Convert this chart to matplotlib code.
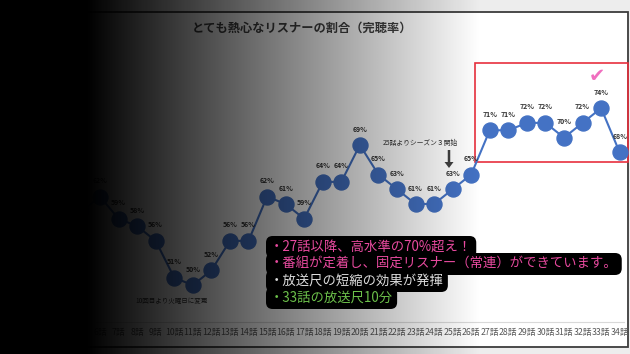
import numpy as np
import matplotlib
matplotlib.use('Agg')
import matplotlib.pyplot as plt
from matplotlib.patches import Rectangle, FancyArrow

plt.rcParams['font.family'] = ['Noto Sans CJK JP', 'DejaVu Sans']

# episodes 1-5 are hidden under the dark overlay in the source, values estimated
episodes = [f'{i}話' for i in range(1, 35)]
rate = [60, 58, 61, 59, 60, 62, 59, 58, 56, 51, 50, 52, 56, 56, 62, 61, 59,
        64, 64, 69, 65, 63, 61, 61, 63, 65, 71, 71, 72, 72, 70, 72, 74, 68]

title = 'とても熱心なリスナーの割合（完聴率）'
note_lines = ['・27話以降、高水準の70%超え！',
              '・番組が定着し、固定リスナー（常連）ができています。',
              '・放送尺の短縮の効果が発揮',
              '・33話の放送尺10分']
note_colors = ['#e84a9f', '#e84a9f', '#dcdcdc', '#6cc04a']

W, H = 630, 354
fig = plt.figure(figsize=(6.3, 3.54), dpi=100)
fig.patch.set_facecolor('#ededed')

# background / frame, pixel coordinates
bg = fig.add_axes([0, 0, 1, 1], zorder=0)
bg.set_xlim(0, W)
bg.set_ylim(H, 0)
bg.axis('off')
bg.add_patch(Rectangle((-5, 12), 633, 335, facecolor='white',
                       edgecolor='#3c3c3c', lw=1.3))
bg.text(302, 28, title, ha='center', va='center', fontsize=8.8,
        fontweight='bold', color='#404040')
bg.text(420, 143, '25話よりシーズン３開始', ha='center', va='center',
        fontsize=4.9, color='#333333')
bg.add_patch(FancyArrow(449, 150, 0, 12, width=2.5, head_width=9,
                        head_length=6, color='#404040', lw=0))
bg.text(172, 301, '10回目より火曜日に変更', ha='center', va='center',
        fontsize=4.7, color='#333333')
bg.add_patch(Rectangle((475, 63), 153, 99, facecolor='none',
                       edgecolor='#e8303e', lw=1.2))
bg.text(597, 76, '✔', ha='center', va='center', fontsize=14,
        color='#f06fbf', family=['DejaVu Sans'])

# data axes
x = np.arange(1, len(rate) + 1)
ax = fig.add_axes([-2.08 / W, 32 / H, 631.04 / W, 258.1 / H], zorder=1)
ax.patch.set_alpha(0)
ax.plot(x, rate, color='#4472c4', lw=1.5, marker='o', markersize=10.8,
        markerfacecolor='#4472c4', markeredgecolor='#4472c4')
for xi, v in zip(x, rate):
    ax.annotate(f'{v}%', (xi, v), xytext=(0, 11.5), textcoords='offset points',
                ha='center', va='center', fontsize=5, fontweight='bold',
                color='#333333')
ax.set_xlim(0.5, 34.5)
ax.set_ylim(45, 80)
ax.set_xticks(x)
ax.set_xticklabels(episodes, fontsize=6.3, color='#595959')
ax.tick_params(axis='x', length=0, pad=4.5)
ax.set_yticks([])
for s in ['top', 'left', 'right']:
    ax.spines[s].set_visible(False)
ax.spines['bottom'].set_color('#d9d9d9')
ax.spines['bottom'].set_bounds(0.5, 34.25)

# black gradient overlay from the left
ov = fig.add_axes([0, 0, 1, 1], zorder=2)
ov.axis('off')
cols = np.arange(W)
alpha = np.clip((480 - cols) / 392.0, 0, 1)
img = np.zeros((2, W, 4))
img[:, :, 3] = alpha
ov.imshow(img, extent=(0, W, H, 0), aspect='auto', interpolation='bilinear')
ov.set_xlim(0, W)
ov.set_ylim(H, 0)

# note box on top
top = fig.add_axes([0, 0, 1, 1], zorder=3)
top.set_xlim(0, W)
top.set_ylim(H, 0)
top.axis('off')
for i, (line, c) in enumerate(zip(note_lines, note_colors)):
    top.text(270, 247 + i * 17, line, ha='left', va='center', fontsize=9.6,
             color=c, bbox=dict(boxstyle='round,pad=0.3,rounding_size=0.5',
                                facecolor='black', edgecolor='none'))

fig.savefig('out.png', dpi=100)
